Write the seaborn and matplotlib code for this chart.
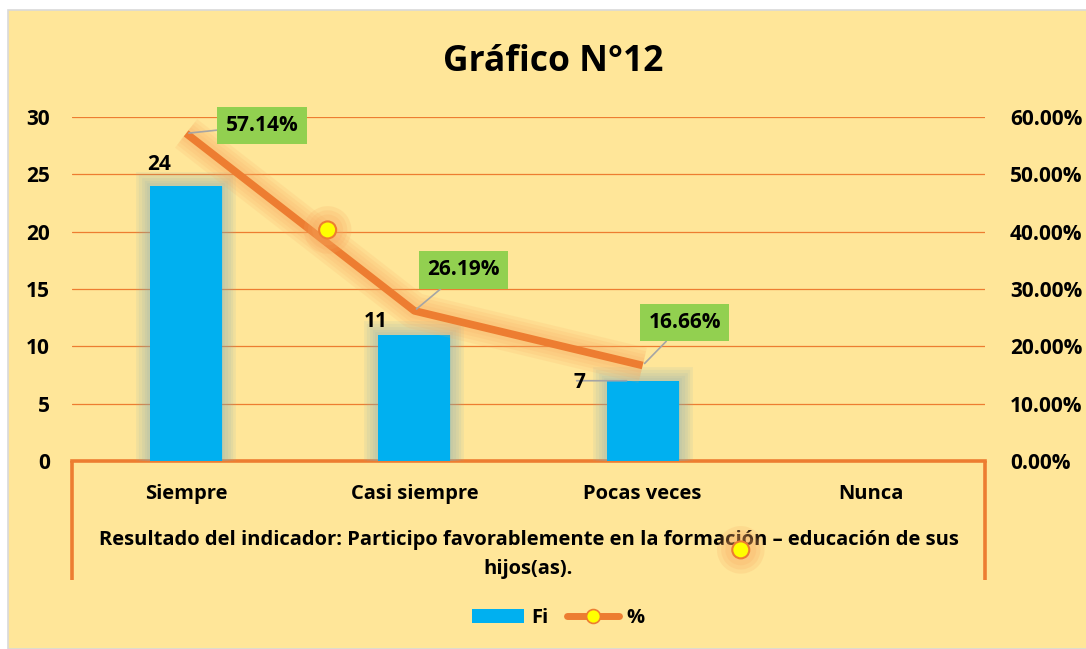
import matplotlib
matplotlib.use("Agg")
import matplotlib.pyplot as plt
import matplotlib.patheffects as pe
from matplotlib.patches import Rectangle, Patch
from matplotlib.lines import Line2D
import matplotlib.ticker as mtick
import numpy as np
import seaborn as sns

# ─── data ─────────────────────────────────────────────────────────────────────
categorias = ["Siempre", "Casi siempre", "Pocas veces", "Nunca"]
fi = [24, 11, 7, 0]
porcentaje = [0.5714, 0.2619, 0.1666]          # Nunca has no % point
pct_labels = ["57.14%", "26.19%", "16.66%"]
# stray markers visible in the picture (x in category units, y on % axis)
marca_x = [0.62, 2.43]
marca_y = [0.403, -0.155]

# ─── style ────────────────────────────────────────────────────────────────────
sns.set_theme(style="white")
plt.rcParams["font.family"] = ["Open Sans", "DejaVu Sans"]
plt.rcParams["font.weight"] = "bold"
for k in ["text.color", "axes.labelcolor", "xtick.color", "ytick.color"]:
    plt.rcParams[k] = "black"

FONDO = "#FFE699"
AZUL = "#00B0F0"
NARANJA = "#ED7D31"
VERDE = "#92D050"
GRIS = "#A5A5A5"
FS = 15        # tick & data labels
FS_CAT = 14.5  # category names & axis title


def glow(color, widths, alpha):
    fx = [pe.Stroke(linewidth=w, foreground=color, alpha=alpha) for w in widths]
    return fx + [pe.Normal()]


W, H = 1086, 649
fig = plt.figure(figsize=(W / 100, H / 100), dpi=100, facecolor="white")
fig.patches.append(Rectangle((8 / W, 0), 1, 1 - 10 / H, transform=fig.transFigure,
                             fc=FONDO, ec="#D9D9D9", lw=1.2, zorder=-10))

ax = fig.add_axes([72 / W, (H - 461) / H, (985 - 72) / W, (461 - 117) / H])
ax.set_facecolor("none")

# bars
sns.barplot(x=categorias, y=fi, color=AZUL, saturation=1, width=0.315, ax=ax,
            linewidth=0, zorder=3)
for p, v in zip(ax.patches, fi):
    if v > 0:
        p.set_path_effects(glow("#7FAAB8", [20, 16, 12, 8, 4], 0.11))

ax.set_ylim(0, 30)
ax.set_xlim(-0.5, 3.5)
ax.set_yticks(range(0, 31, 5))
ax.yaxis.grid(True, color=NARANJA, lw=0.9)
ax.set_axisbelow(True)
for s in ["top", "left", "right"]:
    ax.spines[s].set_visible(False)
ax.spines["bottom"].set_color(NARANJA)
ax.spines["bottom"].set_linewidth(2.6)
ax.tick_params(axis="y", length=0, pad=16)
ax.tick_params(axis="x", length=0, pad=16.5)
for t in ax.get_yticklabels():
    t.set_fontsize(FS)
    t.set_fontweight("bold")
for t in ax.get_xticklabels():
    t.set_fontsize(FS_CAT)
    t.set_fontweight("bold")
ax.set_ylabel("")
ax.set_xlabel("Resultado del indicador: Participo favorablemente en la formación – educación de sus\nhijos(as).",
              fontsize=FS_CAT, fontweight="bold", labelpad=19, linespacing=1.55)

# side frame lines under the category area
for xa in [0, 1]:
    ax.plot([xa, xa], [0, -0.346], transform=ax.transAxes, clip_on=False,
            color=NARANJA, lw=2.6, solid_capstyle="butt")

# bar labels
bar_offsets = [(-27, 21), (-39, 13), (-63, -2)]
for i, (v, off) in enumerate(zip(fi[:3], bar_offsets)):
    ax.annotate(str(v), xy=(i, v), xytext=off, textcoords="offset pixels",
                ha="center", va="center", fontsize=FS, fontweight="bold", zorder=6)
# leader for the "7" label
ax.annotate("", xy=(2 - 0.07, fi[2]), xytext=(-50, 0), textcoords="offset pixels",
            arrowprops=dict(arrowstyle="-", color=GRIS, lw=1.2, shrinkA=0, shrinkB=0))

# % line
ax2 = ax.twinx()
pos = np.arange(len(porcentaje))
sns.lineplot(x=pos, y=porcentaje, ax=ax2, color=NARANJA, lw=5.5, zorder=4)
ax2.lines[0].set_path_effects(glow("#F8A65E", [26, 21, 16, 11], 0.14))
ax2.lines[0].set_solid_capstyle("butt")
ax2.scatter(marca_x, marca_y, s=150, color="#FFFF00", edgecolor=NARANJA, lw=1.5,
            zorder=7, clip_on=False,
            path_effects=glow("#F8A65E", [22, 16, 10], 0.18))
ax2.set_ylim(0, 0.6)
ax2.set_xlim(-0.5, 3.5)
ax2.set_yticks(np.arange(0, 0.61, 0.1))
ax2.yaxis.set_major_formatter(mtick.FuncFormatter(lambda v, _: f"{v * 100:.2f}%"))
ax2.tick_params(axis="y", length=0, pad=18)
for t in ax2.get_yticklabels():
    t.set_fontsize(FS)
    t.set_fontweight("bold")
ax2.set_ylabel("")
for s in ax2.spines.values():
    s.set_visible(False)
ax2.grid(False)

pct_offsets = [(76, 8), (49, 41), (42, 43)]
for x, v, lab, off in zip(pos, porcentaje, pct_labels, pct_offsets):
    ax2.annotate(lab, xy=(x, v), xytext=off, textcoords="offset pixels",
                 ha="center", va="center", fontsize=FS, fontweight="bold", zorder=8,
                 bbox=dict(boxstyle="square,pad=0.4", fc=VERDE, ec="none"),
                 arrowprops=dict(arrowstyle="-", color=GRIS, lw=1.2, shrinkA=0, shrinkB=2))

# title
fig.text(553 / W, 1 - 62 / H, "Gráfico N°12", ha="center", va="center",
         fontsize=25.5, fontweight="bold")

# legend
handles = [Patch(fc=AZUL, ec="none"),
           Line2D([], [], color=NARANJA, lw=5, marker="o", ms=10,
                  mfc="#FFFF00", mec=NARANJA, mew=1.2)]
fig.legend(handles, ["Fi", "%"], loc="center", bbox_to_anchor=(558 / W, 1 - 618 / H),
           ncol=2, frameon=False, prop=dict(size=FS_CAT, weight="bold"),
           handlelength=2.6, handleheight=0.75, handletextpad=0.35, columnspacing=0.9)

fig.savefig("out.png", dpi=100, facecolor=fig.get_facecolor())
